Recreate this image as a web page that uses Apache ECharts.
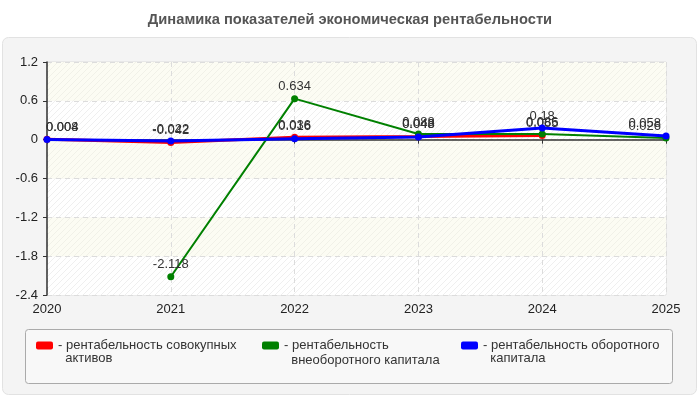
<!DOCTYPE html>
<html><head><meta charset="utf-8">
<script src="https://cdn.jsdelivr.net/npm/echarts@6.0.0/dist/echarts.min.js"></script>
<style>html,body{margin:0;padding:0;background:#fff}#c{width:700px;height:400px}</style>
</head><body><div id="c"></div>
<script>
const titleText = 'Динамика показателей экономическая рентабельности';
const years = ['2020', '2021', '2022', '2023', '2024', '2025'];
const seriesNames = [
  'рентабельность совокупных активов',
  'рентабельность внеоборотного капитала',
  'рентабельность оборотного капитала'
];
const legendLines = [
  ['рентабельность совокупных', 'активов'],
  ['рентабельность', 'внеоборотного капитала'],
  ['рентабельность оборотного', 'капитала']
];
const seriesColors = ['#ff0000', '#008000', '#0000ff'];
const totalAssets = [0.008, -0.042, 0.036, 0.048, 0.065, null];
const nonCurrentCapital = [null, -2.118, 0.634, 0.088, 0.086, 0.026];
const currentCapital = [0.004, -0.022, 0.016, 0.043, 0.18, 0.058];
const yMin = -2.4, yMax = 1.2, yStep = 0.6;

const FONT = 'Liberation Sans, Arial, sans-serif';

function makePattern(bg, line) {
  const c = document.createElement('canvas');
  c.width = 6; c.height = 6;
  const g = c.getContext('2d');
  g.fillStyle = bg; g.fillRect(0, 0, 6, 6);
  g.strokeStyle = line; g.lineWidth = 1;
  g.beginPath();
  g.moveTo(-1, 7); g.lineTo(7, -1);
  g.moveTo(-1, 1); g.lineTo(1, -1);
  g.moveTo(5, 7); g.lineTo(7, 5);
  g.stroke();
  return { image: c, repeat: 'repeat' };
}
const patWhite = makePattern('#ffffff', '#efefef');
const patCream = makePattern('#fcfcf3', '#f1f1e8');

const allData = [totalAssets, nonCurrentCapital, currentCapital];
function buildData(arr) {
  return arr.map((v, i) => {
    if (v === null) return null;
    if (i === 0) return { value: v, label: { align: 'left', offset: [-1, 0] } };
    if (i === years.length - 1) return { value: v, label: { align: 'right', offset: [-5, 0] } };
    return v;
  });
}
const lineWidths = [3, 2, 3];
const series = seriesNames.map((name, k) => ({
  name: name,
  type: 'line',
  data: buildData(allData[k]),
  color: seriesColors[k],
  symbol: 'circle',
  symbolSize: 7,
  lineStyle: { width: lineWidths[k], color: seriesColors[k] },
  itemStyle: { color: seriesColors[k] },
  connectNulls: false,
  animation: false,
  label: {
    show: true, position: 'top', distance: 2,
    color: '#333', fontSize: 13, fontFamily: FONT,
    formatter: p => String(p.value)
  },
  z: 3 + k
}));

const legendLeft = [36, 262, 461];
const legendLH = [13, 15, 13];
const legends = seriesNames.map((name, k) => ({
  data: [name],
  left: legendLeft[k],
  top: 345.5 - 1.5 * legendLH[k],
  padding: 0,
  itemWidth: 17,
  itemHeight: 8,
  itemGap: 0,
  icon: 'roundRect',
  selectedMode: false,
  formatter: () => ' \n- ' + legendLines[k][0] + '\n  ' + legendLines[k][1],
  textStyle: {
    color: '#333', fontSize: 13, fontFamily: FONT,
    lineHeight: legendLH[k]
  }
}));

const chart = echarts.init(document.getElementById('c'), null, { renderer: 'canvas' });
chart.setOption({
  animation: false,
  backgroundColor: '#ffffff',
  title: {
    text: titleText, left: 'center', top: 12, padding: 0,
    textStyle: { fontSize: 14.7, fontWeight: 'bold', color: '#555', fontFamily: FONT }
  },
  graphic: [
    { type: 'rect', z: -100, shape: { x: 2.5, y: 37.5, width: 694, height: 357, r: 6 },
      style: { fill: '#f4f4f4', stroke: '#e2e2e2', lineWidth: 1 } },
    { type: 'rect', z: -90, shape: { x: 25.5, y: 329.5, width: 647, height: 54, r: 3 },
      style: { fill: '#f8f8f8', stroke: '#aaaaaa', lineWidth: 1 } }
  ],
  legend: legends,
  grid: { left: 47, right: 34, top: 62, bottom: 105, show: true, borderColor: '#dddddd', borderWidth: 1, backgroundColor: 'transparent' },
  xAxis: {
    type: 'category', data: years, boundaryGap: false,
    axisLine: { show: true, lineStyle: { color: '#333', width: 1.5 } },
    axisTick: { show: true, length: 4, lineStyle: { color: '#333' } },
    axisLabel: { color: '#222', fontSize: 13, margin: 8, fontFamily: FONT },
    splitLine: { show: true, lineStyle: { color: '#dcdcdc', type: [5, 4] } }
  },
  yAxis: {
    type: 'value', min: yMin, max: yMax, interval: yStep,
    axisLine: { show: true, lineStyle: { color: '#333', width: 1.5 } },
    axisTick: { show: true, length: 4, lineStyle: { color: '#333' } },
    axisLabel: { color: '#222', fontSize: 13, margin: 9, fontFamily: FONT,
      formatter: v => (Math.abs(v) < 1e-9 ? '0' : (+v).toFixed(1)) },
    splitLine: { show: true, lineStyle: { color: '#dcdcdc', type: [5, 4] } },
    splitArea: { show: true, areaStyle: { color: [patWhite, patCream] } }
  },
  series: series
});
</script>
</body></html>
